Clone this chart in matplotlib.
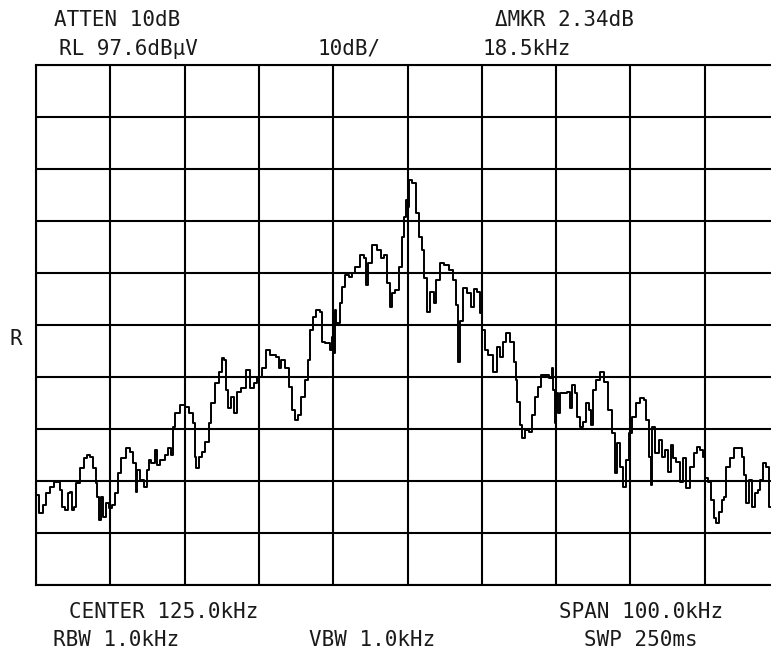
import matplotlib.pyplot as plt

# spectrum analyzer trace (kHz, dBuV)
freq_khz = [
    75.0, 75.8, 76.2, 76.6, 77.2, 77.6, 78.0, 78.5, 78.6, 79.2, 79.3, 79.8, 80.0, 80.2, 80.7,
    81.2, 81.6, 82.0, 82.5, 82.9, 83.2, 83.3, 83.6, 83.9, 84.2, 84.6, 85.0, 85.4, 85.9, 86.3,
    86.7, 87.4, 87.9, 88.3, 88.6, 88.7, 89.3, 89.7, 90.1, 90.3, 90.7, 91.2, 91.4, 92.0, 92.6,
    93.0, 93.4, 93.45, 94.0, 94.7, 95.3, 96.0, 96.3, 96.5, 96.7, 97.1, 97.5, 98.1, 98.4, 98.8,
    99.4, 99.8, 100.2, 100.4, 100.7, 101.1, 101.5, 101.9, 102.2, 102.9, 103.5, 104.1, 104.5,
    105.1, 105.6, 106.2, 106.9, 107.6, 107.8, 108.2, 108.9, 109.2, 109.6, 110.1, 110.5, 110.9,
    111.5, 111.7, 112.1, 112.5, 113.0, 113.5, 113.6, 114.3, 114.8, 115.0, 115.2, 115.25, 115.6,
    116.2, 116.3, 116.9, 117.3, 117.7, 118.3, 118.9, 119.3, 119.5, 119.9, 120.6, 121.3, 121.7,
    122.0, 122.4, 122.8, 123.0, 123.6, 124.0, 124.4, 124.7, 124.9, 125.1, 125.3, 126.0, 126.4,
    126.7, 127.1, 127.4, 127.8, 128.3, 128.7, 129.1, 129.6, 130.3, 131.0, 131.3, 131.7, 131.9,
    132.3, 132.7, 133.4, 133.8, 134.1, 134.6, 134.9, 135.2, 135.7, 136.1, 136.8, 137.2, 137.7,
    138.1, 138.5, 139.1, 139.5, 139.7, 139.9, 140.4, 140.5, 141.1, 141.5, 141.9, 142.4, 142.8,
    143.1, 143.8, 144.2, 144.6, 144.7, 144.9, 145.1, 145.3, 145.8, 146.2, 146.6, 147.1, 147.3,
    147.8, 147.9, 148.4, 148.9, 149.2, 149.6, 149.8, 150.2, 150.6, 151.2, 151.6, 152.3, 152.7,
    153.1, 153.3, 153.9, 154.2, 154.6, 155.0, 155.4, 156.1, 156.6, 157.0, 157.3, 157.7, 157.9,
    158.0, 158.6, 159.0, 159.4, 159.9, 160.3, 160.6, 161.0, 161.4, 161.9, 162.3, 162.7, 163.3,
    163.7, 164.1, 164.6, 165.0, 165.2, 165.6, 166.0, 166.4, 166.7, 167.1, 167.5, 167.7, 168.0,
    168.7, 169.1, 169.8, 170.2, 170.4, 170.7, 171.1, 171.5, 172.0, 172.3, 172.7, 173.1, 173.5,
    173.8,
]
level_dbuv = [
    14.9, 11.4, 13.0, 15.3, 16.4, 17.4, 17.4, 15.9, 12.6, 12.0, 15.3, 15.5, 12.0, 12.6, 17.2,
    20.1, 22.0, 22.6, 22.2, 20.1, 17.2, 14.5, 10.1, 14.5, 10.7, 13.4, 12.4, 13.0, 15.3, 19.1,
    22.0, 23.9, 23.2, 21.1, 15.5, 19.7, 17.8, 16.4, 19.7, 21.6, 21.1, 23.6, 20.7, 21.6, 22.6,
    23.9, 22.6, 28.0, 30.7, 32.2, 31.8, 30.7, 28.8, 22.2, 20.1, 22.2, 23.2, 25.1, 28.8, 32.6,
    36.4, 38.5, 41.3, 40.9, 35.1, 31.6, 33.8, 30.7, 34.7, 35.5, 38.9, 35.5, 36.4,
    37.6, 39.3, 42.8, 41.8, 41.4, 39.3, 40.9, 39.3, 35.7, 31.3, 29.3, 30.3, 33.8,
    37.0, 40.9, 46.6, 49.1, 50.5, 50.1, 44.3, 44.1, 42.8, 45.3, 42.2, 50.5, 48.0,
    51.8, 54.9, 57.2, 56.8, 57.6, 58.8, 61.1, 60.5, 55.3, 59.5, 63.0, 62.0, 60.5,
    61.1, 55.7, 51.1, 53.8, 54.3, 58.8, 64.5, 68.4, 71.6, 70.3, 75.5, 74.9, 69.1,
    64.5, 62.0, 56.6, 50.1, 53.9, 51.8, 56.3, 59.5, 59.1, 58.2, 56.3, 51.4, 40.5,
    48.4, 54.7, 53.8, 51.1, 54.5, 53.9, 49.9, 46.6, 42.8, 41.8, 38.6, 43.4, 41.4,
    44.3, 46.1, 44.3, 40.5, 37.0, 32.8, 28.4, 25.9, 27.4, 27.0, 30.3, 33.8, 35.7,
    38.0, 38.0, 37.4, 39.3, 35.1, 28.8, 34.5, 30.7, 34.5, 34.5, 34.7, 31.6, 36.1,
    34.5, 29.9, 28.0, 28.9, 32.6, 31.3, 28.4, 35.1, 37.0, 38.6, 36.6, 31.3, 26.8,
    19.1, 24.9, 20.3, 16.4, 21.6, 26.8, 29.9, 32.6, 33.6, 33.2, 29.3, 22.2, 16.8,
    28.0, 23.0, 25.5, 22.2, 23.6, 19.3, 24.5, 22.0, 21.2, 17.4, 22.0, 16.2, 20.3,
    23.0, 24.1, 23.6, 22.2, 18.2, 17.4, 13.9, 10.5, 9.5, 11.6, 13.9, 14.5, 20.3,
    22.0, 23.9, 23.9, 22.2, 18.8, 13.4, 17.8, 12.6, 15.3, 15.9, 17.8, 21.1, 20.3,
    12.6,
]

ref_level = 97.6
db_per_div = 10
center_khz = 125.0
span_khz = 100.0

W, H = 771, 655
fig = plt.figure(figsize=(W / 100, H / 100), dpi=100)
# the screen grid runs past the right edge of the capture
ax = fig.add_axes([36 / W, 70 / H, 743 / W, 520 / H])

ax.plot(freq_khz, level_dbuv, color="black", lw=1.4, drawstyle="steps-mid")

ax.set_xlim(center_khz - span_khz / 2, center_khz + span_khz / 2)
ax.set_ylim(ref_level - 10 * db_per_div, ref_level)
ax.set_xticks([center_khz - span_khz / 2 + i * span_khz / 10 for i in range(11)])
ax.set_yticks([ref_level - i * db_per_div for i in range(11)])
ax.grid(True, color="black", lw=1.5)
ax.tick_params(length=0, labelbottom=False, labelleft=False)
for s in ax.spines.values():
    s.set_linewidth(1.5)

font = dict(family="DejaVu Sans Mono", fontsize=15, color="#1a1a1a",
            ha="center", va="center")
labels = [
    ("ATTEN 10dB", 117, 19.5),
    ("RL 97.6dBµV", 128, 49),
    ("10dB/", 349, 49),
    ("ΔMKR 2.34dB", 564, 19.5),
    ("18.5kHz", 527, 49),
    ("R", 15.5, 339),
    ("CENTER 125.0kHz", 164, 611.5),
    ("RBW 1.0kHz", 116, 640.5),
    ("VBW 1.0kHz", 372, 640.5),
    ("SPAN 100.0kHz", 641, 611.5),
    ("SWP 250ms", 641, 640.5),
]
for txt, x, y in labels:
    fig.text(x / W, 1 - y / H, txt, **font)

fig.savefig("out.png", dpi=100)
